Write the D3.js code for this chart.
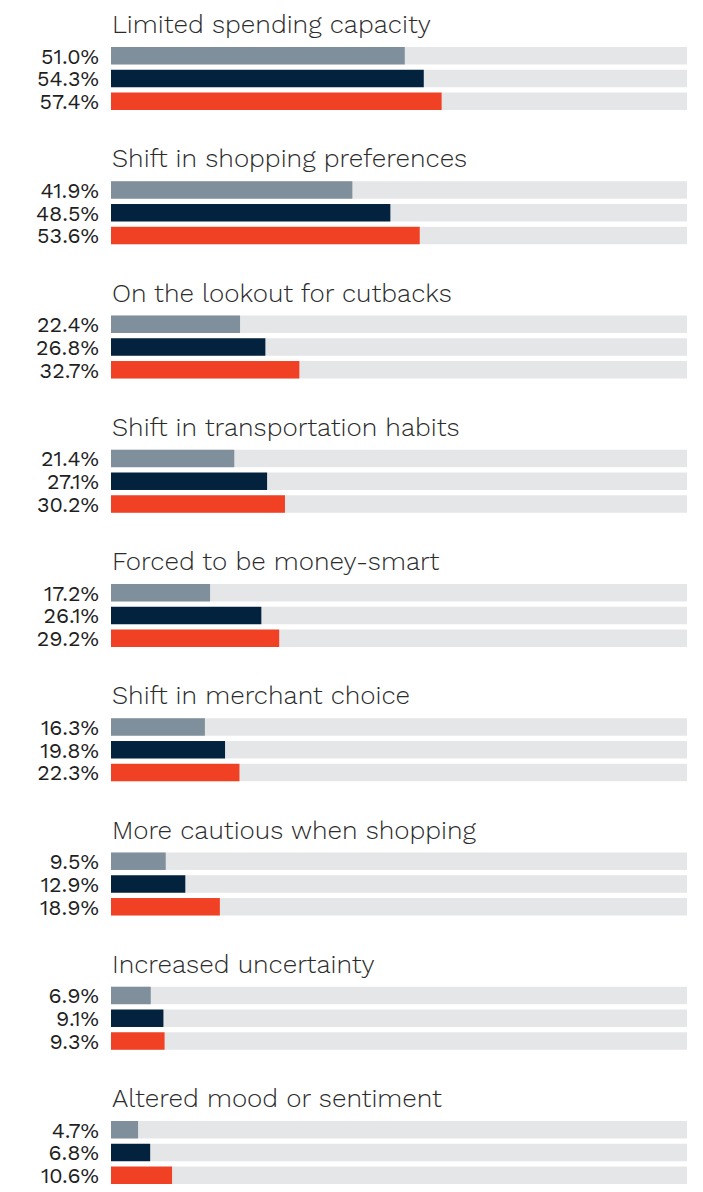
<!DOCTYPE html>
<html>
<head>
<meta charset="utf-8">
<script src="https://cdn.jsdelivr.net/npm/d3@7"></script>
<style>
  body { margin: 0; background: #fff; }
  text { font-family: "Work Sans", "Noto Sans", sans-serif; }
</style>
</head>
<body>
<div id="chart"></div>
<script>
// DATA
const categories = [
    "Limited spending capacity",
    "Shift in shopping preferences",
    "On the lookout for cutbacks",
    "Shift in transportation habits",
    "Forced to be money-smart",
    "Shift in merchant choice",
    "More cautious when shopping",
    "Increased uncertainty",
    "Altered mood or sentiment"
];
const series = ["s1", "s2", "s3"];
const valuesS1 = [51.0, 41.9, 22.4, 21.4, 17.2, 16.3, 9.5, 6.9, 4.7];
const valuesS2 = [54.3, 48.5, 26.8, 27.1, 26.1, 19.8, 12.9, 9.1, 6.8];
const valuesS3 = [57.4, 53.6, 32.7, 30.2, 29.2, 22.3, 18.9, 9.3, 10.6];

const colors = ["#7f8f9b", "#03223d", "#f04124"];

// SIZES
const W = 703, H = 1192;
const left = 111, right = 687;
const firstBar = 47, lastBar = 1121;

const svg = d3.select("#chart")
    .append("svg")
    .attr("width", W)
    .attr("height", H);

const data = categories.map((c, i) => ({
    name: c,
    vals: [valuesS1[i], valuesS2[i], valuesS3[i]]
}));

// SCALES
const x = d3.scaleLinear().domain([0, 100]).range([left, right]);
const gy = d3.scalePoint().domain(categories).range([firstBar, lastBar]);
const by = d3.scaleBand().domain(series).range([0, 63]).paddingInner(0.233).paddingOuter(0);

const groups = svg.selectAll("g.grp")
    .data(data)
    .enter()
    .append("g")
    .attr("class", "grp")
    .attr("transform", d => `translate(0,${gy(d.name)})`);

// titles
groups.append("text")
    .attr("x", left + 1)
    .attr("y", -14)
    .style("font-size", "26px")
    .style("font-weight", 300)
    .attr("fill", "#2b2b2b")
    .text(d => d.name);

const rows = groups.selectAll("g.row")
    .data(d => d.vals.map((v, i) => ({ key: series[i], v: v, i: i })))
    .enter()
    .append("g")
    .attr("class", "row")
    .attr("transform", d => `translate(0,${by(d.key)})`);

// background track
rows.append("rect")
    .attr("x", x(0))
    .attr("width", x(100) - x(0))
    .attr("height", by.bandwidth())
    .attr("fill", "#e5e6e8");

rows.append("rect")
    .attr("x", x(0))
    .attr("width", d => x(d.v) - x(0))
    .attr("height", by.bandwidth())
    .attr("fill", d => colors[d.i]);

rows.append("text")
    .attr("x", 99)
    .attr("y", by.bandwidth() / 2)
    .attr("dy", "0.37em")
    .attr("text-anchor", "end")
    .style("font-size", "21.5px")
    .style("font-weight", 400)
    .attr("fill", "#1f1f1f")
    .text(d => d.v.toFixed(1) + "%");
</script>
</body>
</html>
